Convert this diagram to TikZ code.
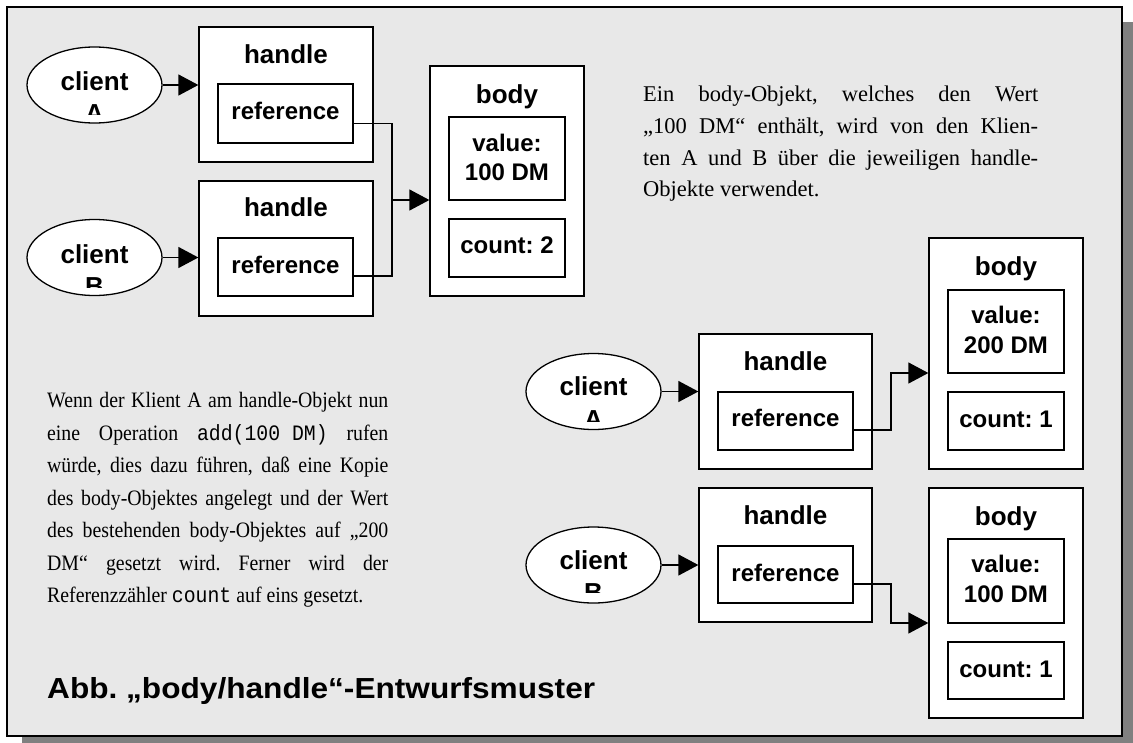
\documentclass[tikz,border=0pt]{standalone}
\usepackage{fontspec}
\setmainfont{Liberation Serif}
\setsansfont{Liberation Sans}
\setmonofont{Liberation Mono}
\usetikzlibrary{arrows.meta,shapes.geometric}
\definecolor{bg}{HTML}{E8E8E8}
\definecolor{shadowgray}{HTML}{808080}
\newcommand{\jline}[2]{\scalebox{0.9}[1]{\makebox[#1][s]{#2}}}
\begin{document}
\frenchspacing
\begin{tikzpicture}[x=1pt,y=-1pt,
  box/.style={draw, fill=white, line width=1.3pt, inner sep=0pt, rectangle},
  ell/.style={draw, fill=white, ellipse, line width=1.3pt, inner sep=0pt, minimum width=135pt, minimum height=76pt},
  conn/.style={line width=1.3pt},
  arr/.style={line width=1.3pt, -{Triangle[length=20pt,width=21pt]}},
  hd/.style={font=\sffamily\bfseries\fontsize{26}{30}\selectfont, inner sep=0pt, anchor=base},
  innertxt/.style={font=\sffamily\bfseries\fontsize{24}{28}\selectfont, inner sep=0pt, anchor=base},
  sertxt/.style={font=\fontsize{22.5}{30}\selectfont, inner sep=0pt, anchor=base west},
  lefttxt/.style={font=\fontsize{22}{30}\selectfont, inner sep=0pt, anchor=base west},
  captxt/.style={font=\sffamily\bfseries\fontsize{29}{33}\selectfont, inner sep=0pt, anchor=base west}
]
\useasboundingbox (0,0) rectangle (1133,742);
% shadow and frame
\begin{scope}
  \clip (0,0) rectangle (1133,742);
  \fill[shadowgray] (22,22) rectangle (1140,750);
\end{scope}
\draw[line width=2pt, fill=bg] (7,7) rectangle (1122,736);

% ---------- top group ----------
\node[ell] (cA) at (94.5,85) {};
\node[ell] (cB) at (94.5,257.5) {};
\node[hd] (cAt) at (94.5,90) {client};
\node[hd] (cBt) at (94.5,263.3) {client};
\begin{scope}
  \clip (27,40) rectangle (162,114);
  \node[hd] (cAl) at (94.5,122.6) {A};
\end{scope}
\begin{scope}
  \clip (27,200) rectangle (162,287);
  \node[hd] (cBl) at (94.5,295.9) {B};
\end{scope}

\node[box, minimum width=174pt, minimum height=135pt] (hA) at (286,94.5) {};
\node[box, minimum width=174pt, minimum height=135pt] (hB) at (286,248.5) {};
\node[hd] (hAt) at (286,63.3) {handle};
\node[hd] (hBt) at (286,216.7) {handle};
\node[box, minimum width=135pt, minimum height=59pt] (rA) at (285.5,113.5) {};
\node[box, minimum width=135pt, minimum height=58pt] (rB) at (285.5,267) {};
\node[innertxt] (rAt) at (285.5,119) {reference};
\node[innertxt] (rBt) at (285.5,273) {reference};

\node[box, minimum width=154pt, minimum height=230pt] (b1) at (507,181) {};
\node[hd] (b1t) at (507,103) {body};
\node[box, minimum width=116pt, minimum height=83pt] (vA) at (507,158.5) {};
\node[innertxt] (vAt1) at (507,151) {value:};
\node[innertxt] (vAt2) at (507,180.5) {100 DM};
\node[box, minimum width=116pt, minimum height=58pt] (nA) at (507,248) {};
\node[innertxt] (nAt) at (507,253) {count: 2};

\draw[arr] (cA.east) -- (cA.east -| hA.west);
\draw[arr] (cB.east) -- (cB.east -| hB.west);
\coordinate (j1) at (392,200);
\draw[conn] ([yshift=-10pt]rA.east) -| (j1);
\draw[conn] ([yshift=-9pt]rB.east) -| (j1);
\draw[arr] (j1) -- (j1 -| b1.west);

% ---------- bottom group ----------
\node[ell] (cC) at (593.5,391.5) {};
\node[ell] (cD) at (593.5,565) {};
\node[hd] (cCt) at (593.5,395.7) {client};
\node[hd] (cDt) at (593.5,569) {client};
\begin{scope}
  \clip (526,360) rectangle (661,421.7);
  \node[hd] (cCl) at (593.5,428.3) {A};
\end{scope}
\begin{scope}
  \clip (526,530) rectangle (661,592.7);
  \node[hd] (cDl) at (593.5,601.6) {B};
\end{scope}

\node[box, minimum width=173pt, minimum height=135pt] (hC) at (785.5,401.5) {};
\node[box, minimum width=173pt, minimum height=134pt] (hD) at (785.5,555) {};
\node[hd] (hCt) at (785.5,370) {handle};
\node[hd] (hDt) at (785.5,524) {handle};
\node[box, minimum width=135pt, minimum height=58pt] (rC) at (785.5,421) {};
\node[box, minimum width=135pt, minimum height=57pt] (rD) at (785.5,574.5) {};
\node[innertxt] (rCt) at (785.5,426.7) {reference};
\node[innertxt] (rDt) at (785.5,581) {reference};

\node[box, minimum width=154pt, minimum height=231pt] (b2) at (1006,353.5) {};
\node[hd] (b2t) at (1006,275) {body};
\node[box, minimum width=116pt, minimum height=83pt] (vC) at (1006,331.5) {};
\node[innertxt] (vCt1) at (1006,323) {value:};
\node[innertxt] (vCt2) at (1006,353) {200 DM};
\node[box, minimum width=116pt, minimum height=58pt] (nC) at (1006,421) {};
\node[innertxt] (nCt) at (1006,427) {count: 1};

\node[box, minimum width=154pt, minimum height=230pt] (b3) at (1006,603) {};
\node[hd] (b3t) at (1006,525) {body};
\node[box, minimum width=116pt, minimum height=84pt] (vD) at (1006,581) {};
\node[innertxt] (vDt1) at (1006,572) {value:};
\node[innertxt] (vDt2) at (1006,602) {100 DM};
\node[box, minimum width=116pt, minimum height=57pt] (nD) at (1006,670.5) {};
\node[innertxt] (nDt) at (1006,677) {count: 1};

\draw[arr] (cC.east) -- (cC.east -| hC.west);
\draw[arr] (cD.east) -- (cD.east -| hD.west);
\coordinate (j2) at (891,373);
\coordinate (j3) at (891,623);
\draw[arr] ([yshift=-9pt]rC.east) -| (j2) -- (j2 -| b2.west);
\draw[arr] ([yshift=-9.5pt]rD.east) -| (j3) -- (j3 -| b3.west);

% ---------- texts ----------
\node[sertxt] (t1) at (643,101.7) {\makebox[395pt][s]{Ein body-Objekt, welches den Wert}};
\node[sertxt] (t2) at (643,133.4) {\makebox[395pt][s]{„100 DM“ enthält, wird von den Klien-}};
\node[sertxt] (t3) at (643,165.1) {\makebox[395pt][s]{ten A und B über die jeweiligen handle-}};
\node[sertxt] (t4) at (643,196.8) {Objekte verwendet.};

\node[lefttxt] (l1) at (47,407.5) {\jline{379pt}{Wenn der Klient A am handle-Objekt nun}};
\node[lefttxt] (l2) at (47,440) {\jline{379pt}{eine Operation \texttt{add(100 DM)} rufen}};
\node[lefttxt] (l3) at (47,472.5) {\jline{379pt}{würde, dies dazu führen, daß eine Kopie}};
\node[lefttxt] (l4) at (47,505) {\jline{379pt}{des body-Objektes angelegt und der Wert}};
\node[lefttxt] (l5) at (47,537.5) {\jline{379pt}{des bestehenden body-Objektes auf „200}};
\node[lefttxt] (l6) at (47,570) {\jline{379pt}{DM“ gesetzt wird. Ferner wird der}};
\node[lefttxt] (l7) at (47,602.5) {\scalebox{0.9}[1]{Referenzzähler \texttt{count} auf eins gesetzt.}};

\node[captxt] (cap) at (47,698) {\scalebox{1.09}[1]{Abb. „body/handle“-Entwurfsmuster}};
\end{tikzpicture}
\end{document}
